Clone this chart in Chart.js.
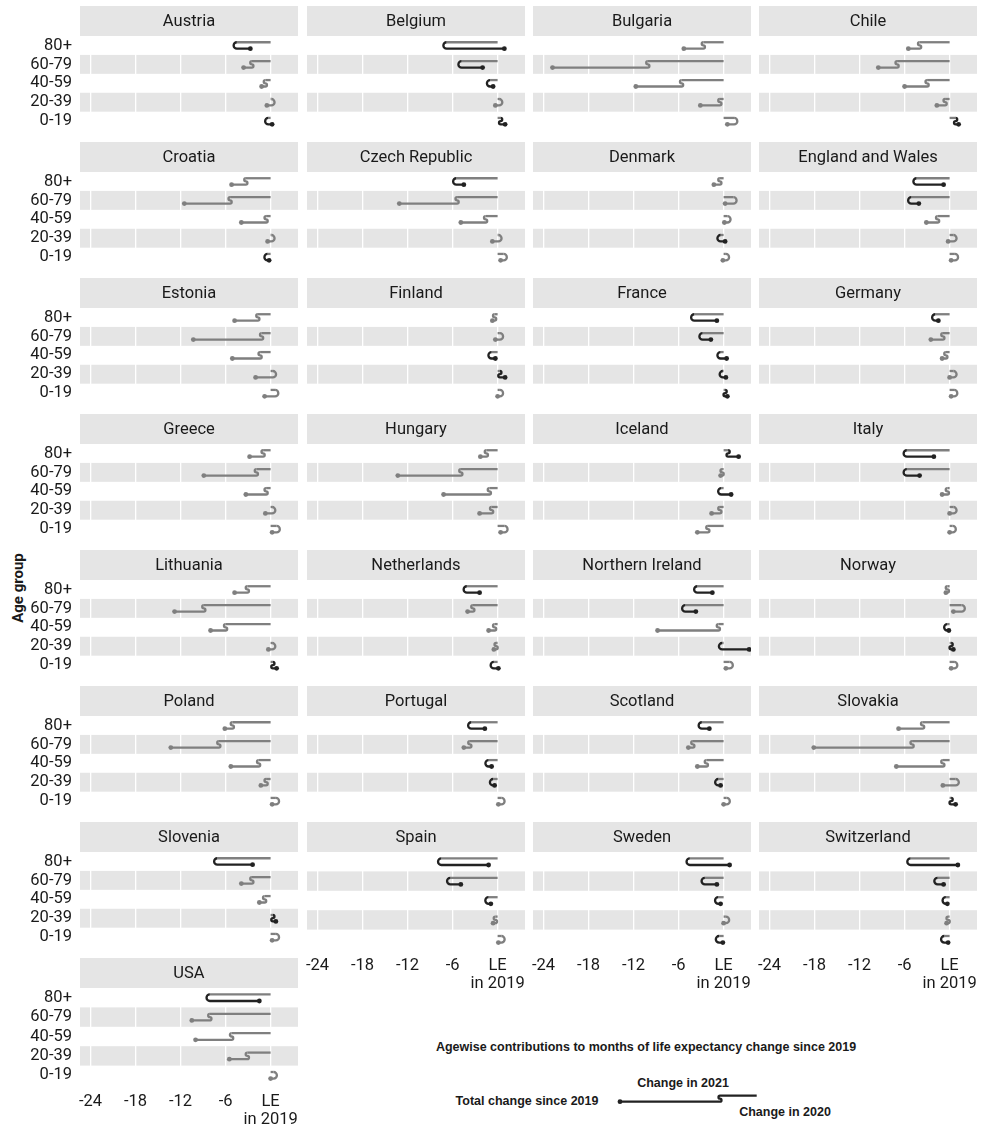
<!DOCTYPE html>
<html>
<head>
<meta charset="utf-8">
<script src="https://cdn.jsdelivr.net/npm/chart.js@4.4.1/dist/chart.umd.min.js"></script>
<style>
  html, body { margin: 0; padding: 0; background: #fff; }
  body { width: 986px; height: 1127px; position: relative; overflow: hidden; font-family: Roboto, sans-serif; }
  canvas.panel { position: absolute; }
  canvas.key { position: absolute; left: 600px; top: 1080px; }
  .ytitle { position: absolute; left: 18px; top: 588px; transform: translate(-50%, -50%) rotate(-90deg);
            font: bold 15px Roboto, sans-serif; color: #1a1a1a; white-space: nowrap; }
  .lg { position: absolute; font: bold 12.5px "Liberation Sans", Arial, sans-serif; color: #1a1a1a;
        white-space: nowrap; transform: translate(-50%, -50%); }
</style>
</head>
<body>
<div class="ytitle">Age group</div>
<div class="lg" style="left:646px;top:1047px">Agewise contributions to months of life expectancy change since 2019</div>
<div class="lg" style="left:527px;top:1101px">Total change since 2019</div>
<div class="lg" style="left:683px;top:1083px">Change in 2021</div>
<div class="lg" style="left:785px;top:1112px">Change in 2020</div>
<canvas class="key" id="key" width="180" height="30"></canvas>

<script>
// Countries, in panel order (left to right, top to bottom)
const countries = [
  'Austria', 'Belgium', 'Bulgaria', 'Chile',
  'Croatia', 'Czech Republic', 'Denmark', 'England and Wales',
  'Estonia', 'Finland', 'France', 'Germany',
  'Greece', 'Hungary', 'Iceland', 'Italy',
  'Lithuania', 'Netherlands', 'Northern Ireland', 'Norway',
  'Poland', 'Portugal', 'Scotland', 'Slovakia',
  'Slovenia', 'Spain', 'Sweden', 'Switzerland',
  'USA'
];

// Age groups, top to bottom within each panel
const ageGroups = ['80+', '60-79', '40-59', '20-39', '0-19'];

// Contribution to life-expectancy change in 2020 (months), per country, per age group
const change2020 = [
  [-4.5, -2.5, -0.7,  0.1, -0.3],  // Austria
  [-6.8, -4.8, -1.0,  0.2,  0.4],  // Belgium
  [-2.7, -10.1, -5.6, -0.5, 1.4],  // Bulgaria
  [-4.0, -7.0, -3.0, -0.6,  0.8],  // Chile
  [-3.3, -5.4, -0.6,  0.1, -0.4],  // Croatia
  [-5.5, -5.4, -1.6,  0.1,  0.8],  // Czech Republic
  [-0.5,  1.3,  0.5, -0.4,  0.3],  // Denmark
  [-4.4, -5.1, -1.6,  0.5,  0.7],  // England and Wales
  [-1.7, -1.2, -1.4,  0.3,  0.6],  // Estonia
  [-0.4,  0.3, -0.8,  0.3,  0.3],  // Finland
  [-3.9, -2.8, -0.4, -0.1,  0.2],  // France
  [-1.9, -0.9, -0.5,  0.5,  0.6],  // Germany
  [-1.0, -1.9, -0.6,  0.2,  0.8],  // Greece
  [-1.5, -4.9, -1.1, -0.8,  0.9],  // Hungary
  [ 0.6, -0.2, -0.3, -0.5, -2.1],  // Iceland
  [-5.7, -5.7, -0.3,  0.5,  0.4],  // Italy
  [-3.1, -8.9, -6.0,  0.2,  0.3],  // Lithuania
  [-4.1, -3.3, -0.4, -0.2, -0.5],  // Netherlands
  [-3.5, -5.1, -0.7, -0.2,  0.8],  // Northern Ireland
  [-0.3,  1.6, -0.3,  0.2,  0.6],  // Norway
  [-5.1, -6.9, -1.6, -0.6,  0.7],  // Poland
  [-3.5, -3.7, -1.2, -0.6,  0.5],  // Portugal
  [-2.9, -4.1, -2.3, -0.7,  0.4],  // Scotland
  [-3.6, -5.0, -0.9,  0.8,  0.2],  // Slovakia
  [-7.1, -2.5, -0.8,  0.3,  0.7],  // Slovenia
  [-7.5, -6.3, -1.2, -0.3,  0.5],  // Spain
  [-4.5, -2.5, -0.7,  0.3, -0.6],  // Sweden
  [-5.2, -1.6, -0.5, -0.2, -0.7],  // Switzerland
  [-8.1, -8.1, -5.2, -3.1,  0.4]   // USA
];

// Total change since 2019 (2020 + 2021 contributions, months)
const totalChange = [
  [-2.7, -3.6, -1.2, -0.5,  0.2],  // Austria
  [ 0.9, -2.0, -0.6, -0.3,  1.0],  // Belgium
  [-5.3, -22.8, -11.7, -3.1, 0.5], // Bulgaria
  [-5.5, -9.5, -6.0, -1.7,  1.2],  // Chile
  [-5.2, -11.5, -3.9, -0.4, -0.2], // Croatia
  [-4.5, -13.1, -4.9, -0.7,  0.4], // Czech Republic
  [-1.3,  0.2,  0.1,  0.2, -0.1],  // Denmark
  [-0.8, -4.1, -3.1, -0.2,  0.2],  // England and Wales
  [-4.8, -10.3, -5.1, -2.0, -0.8], // Estonia
  [-0.7, -0.3, -0.3,  1.0,  0.0],  // Finland
  [-0.9, -1.7,  0.4,  0.3,  0.5],  // France
  [-1.5, -2.5, -1.0,  0.0,  0.2],  // Germany
  [-2.8, -8.9, -3.3, -0.7,  0.2],  // Greece
  [-2.3, -13.3, -7.2, -2.4, 0.4],  // Hungary
  [ 2.0, -0.4,  1.0, -1.6, -3.5],  // Iceland
  [-2.1, -4.0, -1.0,  0.0,  0.0],  // Italy
  [-4.8, -12.8, -8.0, -0.3, 0.8],  // Lithuania
  [-2.4, -4.0, -1.2, -0.5,  0.1],  // Netherlands
  [-1.5, -3.7, -8.8,  3.4,  0.3],  // Northern Ireland
  [-0.5,  0.5, -0.1,  0.5,  0.2],  // Norway
  [-6.1, -13.3, -5.3, -1.3, 0.2],  // Poland
  [-1.7, -4.5, -0.8, -0.4,  0.1],  // Portugal
  [-1.9, -4.7, -3.5, -0.4,  0.0],  // Scotland
  [-6.8, -18.1, -7.1, -0.9, 0.8],  // Slovakia
  [-2.4, -3.9, -1.5,  0.7,  0.2],  // Slovenia
  [-1.2, -4.9, -0.9, -0.6,  0.1],  // Spain
  [ 0.8, -0.9, -0.4,  0.0, -0.1],  // Sweden
  [ 1.1, -0.8, -0.3, -0.4, -0.2],  // Switzerland
  [-1.5, -10.5, -10.0, -5.5, 0.0]  // USA
];

// Month ticks on the horizontal axis; 0 is life expectancy in 2019
const xTicks = [-24, -18, -12, -6, 0];
const zeroLabel = ['LE', 'in 2019'];

// Panels that carry the horizontal axis labels
const labelledPanels = ['Spain', 'Sweden', 'Switzerland', 'USA'];

// ---- styling & layout ----
const DARK = '#222222';
const GREY = '#7f7f7f';
const BAND = '#e5e5e5';
const TEXT = '#1a1a1a';
const COL_LEFT = [80, 307, 533, 759];
const PANEL_W = 218;
const ROW_TOP0 = 6, ROW_STEP = 136, STRIP_H = 30, PLOT_H = 97, AXIS_H = 52;
const X_MIN = -25.4, X_MAX = 3.65;
const LANE = 0.17;         // vertical half-gap between the 2020 and 2021 legs
const LINE_W = 2.3;

const posOf = i => ageGroups.length - i;

// 2020 leg: from LE in 2019 to the 2020 change, on the upper lane
function traceFirstLeg(ctx, x0, x1, yT) {
  ctx.moveTo(x0, yT);
  ctx.lineTo(x1, yT);
}

// Bend plus 2021 leg on the lower lane, ending at the total change.
// A same-direction 2021 change bends as an S, a reversal as a U-turn.
function traceSecondLeg(ctx, x1, x2, yT, yB, dir, sameDir) {
  const g = yB - yT;
  ctx.moveTo(x1, yT);
  if (sameDir) {
    const r = g / 4;
    ctx.arc(x1, yT + r, r, -Math.PI / 2, Math.PI / 2, dir < 0);
    ctx.arc(x1, yT + 3 * r, r, -Math.PI / 2, Math.PI / 2, dir > 0);
  } else {
    const r = g / 2;
    ctx.arc(x1, yT + r, r, -Math.PI / 2, Math.PI / 2, dir < 0);
  }
  ctx.lineTo(x2, yB);
}

const panelPlugin = {
  id: 'panel',
  beforeDraw(chart, args, opts) {
    const { ctx, chartArea: a } = chart;
    const y = chart.scales.y;
    ctx.save();
    ctx.fillStyle = BAND;
    ctx.fillRect(a.left, a.top - STRIP_H, a.right - a.left, STRIP_H);
    ageGroups.forEach((g, i) => {
      if (i % 2 === 1) {
        const p = posOf(i);
        const t = y.getPixelForValue(p + 0.5), b = y.getPixelForValue(p - 0.5);
        ctx.fillRect(a.left, t, a.right - a.left, b - t);
      }
    });
    ctx.fillStyle = TEXT;
    ctx.font = '16.5px Roboto';
    ctx.textAlign = 'center';
    ctx.textBaseline = 'middle';
    ctx.fillText(opts.title, (a.left + a.right) / 2, a.top - STRIP_H / 2 + 1);
    ctx.restore();
  },
  beforeDatasetsDraw(chart, args, opts) {
    const { ctx } = chart;
    const xs = chart.scales.x, ys = chart.scales.y;
    const c = opts.index;
    ctx.save();
    ctx.lineWidth = LINE_W;
    ctx.lineCap = 'butt';
    ctx.lineJoin = 'round';
    ageGroups.forEach((g, i) => {
      const v20 = change2020[c][i], tot = totalChange[c][i];
      const v21 = tot - v20;
      const dir = v20 >= 0 ? 1 : -1;
      const same = (v21 >= 0 ? 1 : -1) === dir;
      const p = posOf(i);
      const x0 = xs.getPixelForValue(0), x1 = xs.getPixelForValue(v20), x2 = xs.getPixelForValue(tot);
      const yT = ys.getPixelForValue(p + LANE), yB = ys.getPixelForValue(p - LANE);
      ctx.beginPath();
      traceFirstLeg(ctx, x0, x1, yT);
      ctx.strokeStyle = GREY;
      ctx.stroke();
      ctx.beginPath();
      traceSecondLeg(ctx, x1, x2, yT, yB, dir, same);
      ctx.strokeStyle = v21 > 0 ? DARK : GREY;
      ctx.stroke();
    });
    ctx.restore();
  }
};

function buildPanels() {
  countries.forEach((name, k) => {
    const col = k % 4, row = Math.floor(k / 4);
    const labelled = labelledPanels.includes(name);
    const padL = col === 0 ? 80 : 16, padR = 36;
    const yAxisW = col === 0 ? 80 : 0;
    const cv = document.createElement('canvas');
    cv.className = 'panel';
    cv.width = padL + PANEL_W + padR;
    cv.height = STRIP_H + PLOT_H + (labelled ? AXIS_H : 0);
    cv.style.left = (COL_LEFT[col] - padL) + 'px';
    cv.style.top = (ROW_TOP0 + row * ROW_STEP) + 'px';
    document.body.appendChild(cv);

    const tot = totalChange[k];
    new Chart(cv, {
      type: 'scatter',
      data: {
        datasets: [{
          data: ageGroups.map((g, i) => ({ x: tot[i], y: posOf(i) - LANE })),
          pointBackgroundColor: ageGroups.map((g, i) => tot[i] - change2020[k][i] > 0 ? DARK : GREY),
          pointRadius: 2.4,
          pointHoverRadius: 2.4,
          pointBorderWidth: 0
        }]
      },
      options: {
        responsive: false,
        animation: false,
        devicePixelRatio: 1,
        events: [],
        layout: { padding: { left: padL - yAxisW, right: padR, top: STRIP_H, bottom: 0 } },
        plugins: {
          legend: { display: false },
          tooltip: { enabled: false },
          panel: { title: name, index: k }
        },
        scales: {
          x: {
            type: 'linear', min: X_MIN, max: X_MAX,
            afterBuildTicks: s => { s.ticks = xTicks.map(v => ({ value: v })); },
            afterFit: s => { s.height = labelled ? AXIS_H : 0; s.paddingLeft = 0; s.paddingRight = 0; },
            grid: { color: '#ffffff', lineWidth: 1.3, drawTicks: false },
            border: { display: false },
            ticks: {
              display: labelled, padding: 8, color: TEXT, maxRotation: 0, autoSkip: false,
              font: { family: 'Roboto', size: 16.5, lineHeight: 1.1 },
              callback: v => v === 0 ? zeroLabel : String(v)
            }
          },
          y: {
            type: 'linear', display: col === 0, min: 0.5, max: ageGroups.length + 0.5,
            afterBuildTicks: s => { s.ticks = ageGroups.map((g, i) => ({ value: posOf(i) })); },
            afterFit: s => { s.width = yAxisW; s.paddingTop = 0; s.paddingBottom = 0; },
            grid: { display: false, drawTicks: false },
            border: { display: false },
            ticks: {
              padding: 8, color: TEXT,
              font: { family: 'Roboto', size: 16.5 },
              callback: v => ageGroups[ageGroups.length - v]
            }
          }
        }
      },
      plugins: [panelPlugin]
    });
  });

  // key glyph beside the explanatory labels
  const kc = document.getElementById('key').getContext('2d');
  kc.lineWidth = LINE_W; kc.lineCap = 'butt'; kc.lineJoin = 'round';
  kc.strokeStyle = DARK; kc.fillStyle = DARK;
  kc.beginPath();
  traceFirstLeg(kc, 156.7, 120, 15.7);
  traceSecondLeg(kc, 120, 20, 15.7, 21.7, -1, true);
  kc.stroke();
  kc.beginPath();
  kc.arc(20, 21.7, 2.4, 0, Math.PI * 2);
  kc.fill();
}

Promise.all([
  document.fonts.load('16.5px Roboto'),
  document.fonts.load('bold 15px Roboto'),
  document.fonts.load('bold 12.5px "Liberation Sans"')
]).catch(() => {}).then(buildPanels);
</script>
</body>
</html>
